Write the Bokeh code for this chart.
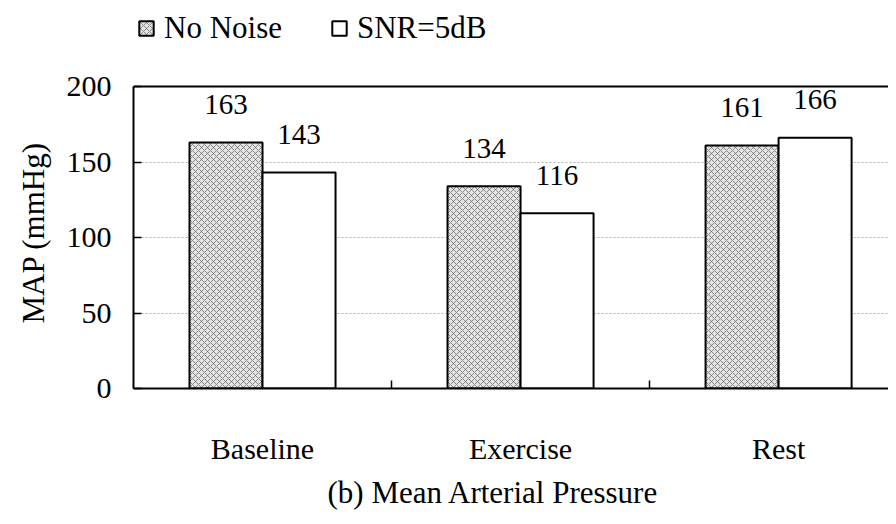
from bokeh.plotting import figure
from bokeh.models import (Range1d, FixedTicker, Legend, LegendItem, Span,
                          Title, ColumnDataSource)
from bokeh.core.properties import value
from bokeh.embed import file_html
from bokeh.resources import INLINE

categories = ["Baseline", "Exercise", "Rest"]
no_noise = [163, 134, 161]
snr_5db = [143, 116, 166]
series_names = ["No Noise", "SNR=5dB"]
y_ticks = [0, 50, 100, 150, 200]
y_label = "MAP (mmHg)"
title_text = "(b) Mean Arterial Pressure"

FONT = "Liberation Serif"
BAR_W = 0.283
Y_HEADROOM = 53          # space above the axis maximum that holds the legend
centers = [i + 0.5 for i in range(len(categories))]
bounds = [i + 1 for i in range(len(categories))]

p = figure(width=888, height=516, output_backend="svg", toolbar_location=None,
           x_range=Range1d(0, 2.926),
           y_range=Range1d(y_ticks[0], y_ticks[-1] + Y_HEADROOM),
           min_border_left=133, min_border_right=0,
           min_border_top=6, min_border_bottom=128)
p.outline_line_color = None
p.background_fill_color = "white"

src1 = ColumnDataSource(dict(x=[c - BAR_W / 2 for c in centers], top=no_noise,
                             label=[str(v) for v in no_noise]))
src2 = ColumnDataSource(dict(x=[c + BAR_W / 2 for c in centers], top=snr_5db,
                             label=[str(v) for v in snr_5db]))

r1 = p.vbar(x="x", top="top", width=BAR_W, source=src1, fill_color="#e4e4e4",
            line_color="black", line_width=2, hatch_pattern="diagonal_cross",
            hatch_color="#606060", hatch_scale=6, hatch_weight=0.7)
r2 = p.vbar(x="x", top="top", width=BAR_W, source=src2, fill_color="white",
            line_color="black", line_width=2)

for s in (src1, src2):
    p.text(x="x", y="top", text="label", source=s, text_font=value(FONT),
           text_font_size="29px", text_align="center", text_baseline="alphabetic",
           y_offset=-38, text_color="black")

# top border of the plot area
p.add_layout(Span(location=y_ticks[-1], dimension="width", line_color="black",
                  line_width=2))

# y axis
yax = p.yaxis[0]
yax.ticker = FixedTicker(ticks=y_ticks)
yax.bounds = (y_ticks[0], y_ticks[-1])
yax.major_tick_in = 8
yax.major_tick_out = 0
yax.major_tick_line_width = 1.5
yax.minor_tick_line_color = None
yax.axis_line_width = 2
yax.major_label_text_font = FONT
yax.major_label_text_font_size = "30px"
yax.major_label_text_color = "black"
yax.major_label_standoff = 22

p.ygrid.ticker = FixedTicker(ticks=y_ticks)
p.ygrid.grid_line_color = "#b0b0b0"
p.ygrid.grid_line_dash = "2 2"
p.ygrid.grid_line_width = 1
p.xgrid.visible = False

# y axis title, centred on the 0..200 part of the axis
p.add_layout(Title(text=y_label, align="left", offset=65, vertical_align="middle",
                   standoff=24, text_font=FONT, text_font_size="31px",
                   text_font_style="normal", text_color="black"), "left")

# x axis
xax = p.xaxis[0]
xax.ticker = FixedTicker(ticks=centers, minor_ticks=bounds)
xax.major_label_overrides = {c: cat for c, cat in zip(centers, categories)}
xax.major_tick_line_color = None
xax.minor_tick_in = 8
xax.minor_tick_out = 0
xax.minor_tick_line_color = "black"
xax.minor_tick_line_width = 1.5
xax.axis_line_width = 2
xax.major_label_text_font = FONT
xax.major_label_text_font_size = "30px"
xax.major_label_text_color = "black"
xax.major_label_standoff = 37

# legend above the plot area
legend = Legend(items=[LegendItem(label=series_names[0], renderers=[r1]),
                       LegendItem(label=series_names[1], renderers=[r2])],
                orientation="horizontal", location="top_left",
                label_text_font=FONT, label_text_font_size="31px",
                label_text_color="black", glyph_width=18, glyph_height=18,
                label_standoff=9, spacing=48, padding=0, margin=4,
                border_line_color=None, background_fill_alpha=0)
p.add_layout(legend, "center")

p.add_layout(Title(text=title_text, align="left", offset=194, text_font=FONT,
                   text_font_size="31px", text_font_style="normal",
                   standoff=10, text_color="black"), "below")

open("out.html", "w").write(file_html(p, INLINE))
